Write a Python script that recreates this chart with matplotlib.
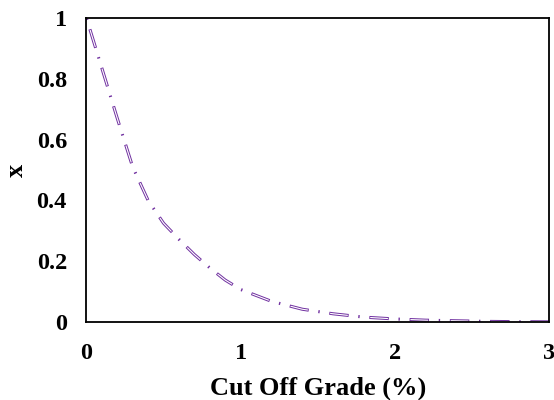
import matplotlib
matplotlib.use("Agg")
import matplotlib.pyplot as plt

plt.rcParams['font.family'] = ['Liberation Serif', 'DejaVu Serif']
plt.rcParams['font.weight'] = 'bold'
plt.rcParams['lines.scale_dashes'] = False

grade = [0.0, 0.1, 0.2, 0.3, 0.4, 0.5, 0.6, 0.7, 0.8, 0.9, 1.0, 1.2, 1.4,
         1.6, 1.8, 2.0, 2.2, 2.4, 2.6, 2.8, 3.0]
xval = [1.0, 0.835, 0.67, 0.51, 0.40, 0.325, 0.272, 0.222, 0.178, 0.138, 0.107,
        0.068, 0.042, 0.027, 0.016, 0.010, 0.006, 0.004, 0.002, 0.001, 0.0005]
xticks = [0, 1, 2, 3]
yticks = [0, 0.2, 0.4, 0.6, 0.8, 1]
yticklabels = ['0', '0.2', '0.4', '0.6', '0.8', '1']

fig = plt.figure(figsize=(5.54, 4.0), dpi=100)
ax = fig.add_axes([0.156, 0.195, 0.835, 0.76])

purple = '#7030A0'
ax.plot(grade, xval, color=purple, lw=2.2, linestyle=(20.5, (14, 7, 1, 7)),
        dash_capstyle='butt', solid_capstyle='butt')
ax.plot(grade, xval, color='white', lw=0.8, linestyle=(19.9, (12.8, 16.2)),
        dash_capstyle='butt')

ax.set_xlim(0, 3)
ax.set_ylim(0, 1)
ax.set_xticks(xticks)
ax.set_xticklabels([str(t) for t in xticks])
ax.set_yticks(yticks)
ax.set_yticklabels(yticklabels)
ax.tick_params(axis='x', length=0, labelsize=17.5, pad=15)
ax.tick_params(axis='y', length=0, labelsize=17.5, pad=14)
for lab in ax.get_xticklabels() + ax.get_yticklabels():
    lab.set_fontweight('bold')
for s in ax.spines.values():
    s.set_linewidth(1.3)
    s.set_color('black')

ax.set_xlabel('Cut Off Grade (%)', fontsize=19, fontweight='bold', labelpad=9)
ax.set_ylabel('x', fontsize=19, fontweight='bold', labelpad=6)

fig.savefig('out.png', dpi=100)
